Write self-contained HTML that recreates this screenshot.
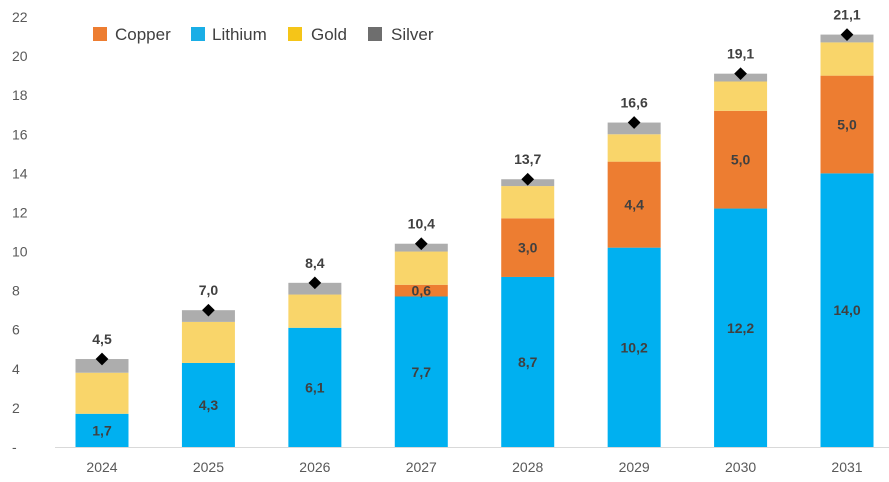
<!DOCTYPE html>
<html><head><meta charset="utf-8"><style>
body{margin:0;background:#fff;}
svg{display:block;font-family:"Liberation Sans",sans-serif;}
</style></head><body>
<svg id="chart" width="889" height="482">
<g id="legend">
<g><rect x="93" y="27" width="14" height="14" fill="#ED7D31"/><text x="115" y="40" font-size="17" fill="#404040">Copper</text></g>
<g><rect x="191" y="27" width="14" height="14" fill="#1AAEE6"/><text x="212" y="40" font-size="17" fill="#404040">Lithium</text></g>
<g><rect x="288" y="27" width="14" height="14" fill="#F5C518"/><text x="311" y="40" font-size="17" fill="#404040">Gold</text></g>
<g><rect x="368" y="27" width="14" height="14" fill="#6E6E6E"/><text x="391" y="40" font-size="17" fill="#404040">Silver</text></g>
</g>
</svg>
<script>
const years=["2024","2025","2026","2027","2028","2029","2030","2031"];
const lithium=[1.7,4.3,6.1,7.7,8.7,10.2,12.2,14.0];
const copper=[0,0,0,0.6,3.0,4.4,5.0,5.0];
const gold=[2.1,2.1,1.7,1.7,1.65,1.4,1.5,1.7];
const silver=[0.7,0.6,0.6,0.4,0.35,0.6,0.4,0.4];
const totals=[4.5,7.0,8.4,10.4,13.7,16.6,19.1,21.1];
const yTicks=[0,2,4,6,8,10,12,14,16,18,20,22];

const svg=document.getElementById('chart');
const NS='http://www.w3.org/2000/svg';
const y0=447, unit=430/22, x0=102, step=106.43, bw=53;
const Y=v=>y0-v*unit;
const X=i=>x0+i*step;
const fmt=v=>v.toFixed(1).replace('.',',');
function mk(t,a){const e=document.createElementNS(NS,t);for(const k in a)e.setAttribute(k,a[k]);svg.appendChild(e);return e;}

yTicks.forEach(v=>{
 const t=mk('text',{x:12,y:Y(v)+5,'font-size':14,fill:'#595959'});
 t.textContent=v===0?'-':String(v);
 
 
});
const ax=mk('line',{x1:55,x2:889,y1:y0+0.5,y2:y0+0.5,stroke:'#D9D9D9'});



const series=[["lithium",lithium,"#00B0F0",true],["copper",copper,"#ED7D31",true],["gold",gold,"#F9D56A",false],["silver",silver,"#ADADAD",false]];
years.forEach((yr,i)=>{
 let base=0;
 series.forEach(([nm,arr,col,lab])=>{
  const v=arr[i];
  if(v>0){
   const r=mk('rect',{x:X(i)-bw/2,y:Y(base+v),width:bw,height:v*unit,fill:col});
   
   
   if(lab){
    const t=mk('text',{x:X(i),y:Y(base+v/2)+5,'font-size':14,'font-weight':'bold',fill:'#404040','text-anchor':'middle'});
    t.textContent=fmt(v);
    
    
   }
  }
  base+=v;
 });
 const ty=Y(totals[i]);
 const d=mk('rect',{x:X(i)-4.5,y:ty-4.5,width:9,height:9,fill:'#000',transform:`rotate(45 ${X(i)} ${ty})`});
 
 
 const tl=mk('text',{x:X(i),y:ty-15,'font-size':14,'font-weight':'bold',fill:'#404040','text-anchor':'middle'});
 tl.textContent=fmt(totals[i]);
 
 
 const xl=mk('text',{x:X(i),y:472,'font-size':14,fill:'#595959','text-anchor':'middle'});
 xl.textContent=yr;
 
 
});
</script>
</body></html>
